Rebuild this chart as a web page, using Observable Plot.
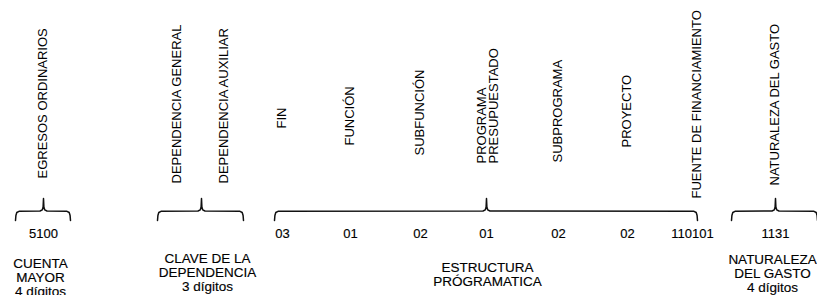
<!DOCTYPE html>
<html>
<head>
<meta charset="utf-8">
<script src="https://cdn.jsdelivr.net/npm/d3@7"></script>
<script src="https://cdn.jsdelivr.net/npm/@observablehq/plot@0.6"></script>
<style>
  html, body { margin: 0; padding: 0; background: #fff; }
  #chart svg { display: block; }
</style>
</head>
<body>
<div id="chart"></div>
<script>
// Vertical field labels (position along the code line, and lower end of each label)
const fieldLabels = ["EGRESOS ORDINARIOS", "DEPENDENCIA GENERAL", "DEPENDENCIA AUXILIAR", "FIN", "FUNCIÓN", "SUBFUNCIÓN", "PROGRAMA\nPRESUPUESTADO", "SUBPROGRAMA", "PROYECTO", "FUENTE DE FINANCIAMIENTO", "NATURALEZA DEL GASTO"];
const fieldX = [43, 177, 224, 282, 350, 420, 488, 558, 627, 697, 775];
const fieldBottom = [178, 183, 183, 128, 145, 155, 163, 162, 147, 198, 185];

// Code digits under the braces
const codeValues = ["5100", "03", "01", "02", "01", "02", "02", "110101", "1131"];
const codeX = [43, 282, 350, 420, 486, 558, 627, 692, 775];

// Groups (braces)
const groupTitles = ["CUENTA\nMAYOR\n4 dígitos", "CLAVE DE LA\nDEPENDENCIA\n3 dígitos", "ESTRUCTURA\nPRÓGRAMATICA", "NATURALEZA\nDEL GASTO\n4 dígitos"];
const groupStart = [15, 157, 274, 731];
const groupEnd = [70, 243, 697, 817];
const groupMid = [43, 201, 486, 775];
const groupLabelX = [40, 207, 487, 772];
const groupLabelY = [263, 258, 267, 259];

// Build tables for the marks
const fields = fieldLabels.map((label, i) => ({label, x: fieldX[i], y: fieldBottom[i]}));
const codes = codeValues.map((text, i) => ({text, x: codeX[i], y: 233}));
const groups = groupTitles.map((text, i) => ({text, x: groupLabelX[i], y: groupLabelY[i]}));

// Brace outlines built from group extents
const bracePoints = [];
groupTitles.forEach((g, i) => {
  const x0 = groupStart[i], x1 = groupEnd[i], xm = groupMid[i];
  const yb = 210.5, yt = 198, ye = 220;
  const pts = [
    [x0, ye], [x0 + 0.4, ye - 5], [x0 + 1.3, yb + 1.5], [x0 + 3.5, yb + 0.3],
    [xm - 3.5, yb], [xm - 1.2, yb - 1.2], [xm - 0.4, yb - 4], [xm, yt],
    [xm + 0.4, yb - 4], [xm + 1.2, yb - 1.2], [xm + 3.5, yb],
    [x1 - 3.5, yb + 0.3], [x1 - 1.3, yb + 1.5], [x1 - 0.4, ye - 5], [x1, ye]
  ];
  pts.forEach(([x, y]) => bracePoints.push({g: i, x, y}));
});

const chart = Plot.plot({
  width: 817,
  height: 295,
  margin: 0,
  x: {domain: [0, 817], range: [0, 817], axis: null},
  y: {domain: [0, 295], range: [0, 295], axis: null},
  style: {fontFamily: "'Liberation Sans', Arial, Helvetica, sans-serif", background: "#fff", color: "#000"},
  marks: [
    Plot.line(bracePoints, {x: "x", y: "y", z: "g", stroke: "#111", strokeWidth: 1.5, strokeLinejoin: "round", strokeLinecap: "round"}),
    Plot.text(fields, {x: "x", y: "y", text: "label", rotate: -90, textAnchor: "start", lineAnchor: "middle", fontSize: 13, lineHeight: 0.92, fill: "#000"}),
    Plot.text(codes, {x: "x", y: "y", text: "text", fontSize: 13, fill: "#000", stroke: "#000", strokeWidth: 0.15}),
    Plot.text(groups, {x: "x", y: "y", text: "text", lineAnchor: "top", dy: -5, fontSize: 13.5, lineHeight: 1.03, fill: "#000", stroke: "#000", strokeWidth: 0.15})
  ]
});
document.getElementById("chart").appendChild(chart);
</script>
</body>
</html>
